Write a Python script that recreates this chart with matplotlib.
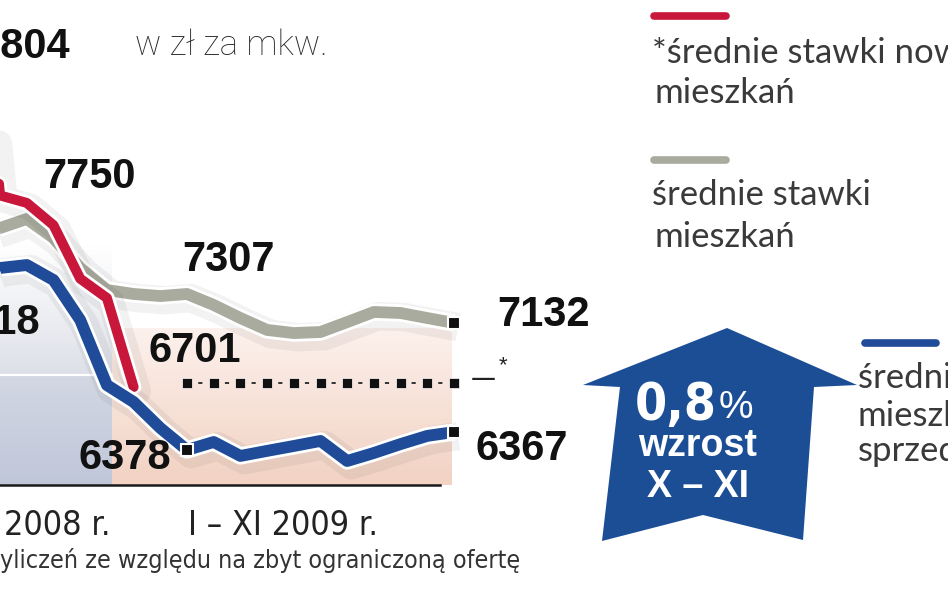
import matplotlib
matplotlib.use('Agg')
import matplotlib.pyplot as plt
import numpy as np
from matplotlib import patheffects as pe
from matplotlib import font_manager as fm
from matplotlib import colors as mcolors
from matplotlib.patches import Polygon

plt.rcParams['lines.scale_dashes'] = False

# ---------------- data (zł per m2) ----------------
# month index: 1 = I 2008 ... 12 = XII 2008, 13 = I 2009 ... 23 = XI 2009
red_months = [5, 6, 7, 8, 9, 10, 11]
red_values = [9900, 7990, 7940, 7790, 7430, 7300, 6701]

gb_months = list(range(5, 24))
gray_values = [7724, 7771, 7832, 7704, 7502, 7354, 7327, 7313,
               7327, 7253, 7165, 7085, 7064, 7071, 7138, 7206, 7199, 7165, 7132]
blue_values = [7421, 7502, 7522, 7421, 7152, 6714, 6600, 6425,
               6277, 6331, 6237, 6271, 6304, 6338, 6203, 6257, 6317, 6372, 6398]

nodata_months = list(range(13, 24))
nodata_level = 6730
floor_value = 6041

value_labels = ["7804", "7750", "7307", "7018", "6701", "7132", "6378", "6367"]
period_labels = ["2008 r.", "I – XI 2009 r."]

RED = '#c8173a'
GRAY = '#a9ab9f'
BLUE = '#1f4b98'
ARROW = '#1c4e96'
TXT = '#2b2b2b'


def has_font(name):
    try:
        fm.findfont(fm.FontProperties(family=name), fallback_to_default=False)
        return True
    except Exception:
        return False


NARROW = 'Liberation Sans Narrow' if has_font('Liberation Sans Narrow') else 'DejaVu Sans'
NSTRETCH = 'normal' if NARROW == 'Liberation Sans Narrow' else 'condensed'
BOLD = 'Liberation Sans' if has_font('Liberation Sans') else 'DejaVu Sans'
LEG = 'Lato' if has_font('Lato') else 'DejaVu Sans'
UNIT = 'Roboto' if has_font('Roboto') else 'DejaVu Sans'

W, H = 948, 593
fig = plt.figure(figsize=(W / 100, H / 100), dpi=100)
fig.patch.set_facecolor('white')

# background layer (pixel coordinates)
bg = fig.add_axes([0, 0, 1, 1], zorder=0)
bg.set_axis_off()


def vgrad(ax, x0, x1, y0, y1, c_top, c_bot, z=0):
    t = np.linspace(0, 1, 64)[:, None, None]
    a = np.array(mcolors.to_rgb(c_top))[None, None, :]
    b = np.array(mcolors.to_rgb(c_bot))[None, None, :]
    img = a * (1 - t) + b * t
    ax.imshow(img, extent=(x0, x1, y1, y0), aspect='auto',
              interpolation='bilinear', zorder=z)


vgrad(bg, 0, 112, 245, 375, '#ffffff', '#dde0e8', 1)
vgrad(bg, 0, 112, 375, 485, '#d2d7e3', '#c0c7d9', 1)
vgrad(bg, 112, 452, 328, 485, '#fcf1ec', '#f2d2c3', 1)
bg.plot([0, 112], [375, 375], color='white', lw=1.6, zorder=2)
bg.set_xlim(0, W)
bg.set_ylim(H, 0)

# data layer
ax = fig.add_axes([0, 0, 1, 1], zorder=1)
ax.patch.set_alpha(0)
ax.set_axis_off()
# month -> pixel: x = 187 + (m - 13) * 26.7 ; value -> pixel: y = 387 - (v - 6701) / 6.73
ax.set_xlim(13 - 187 / 26.7, 13 + (W - 187) / 26.7)
ax.set_ylim(6701 - (H - 387) * 6.73, 6701 + 387 * 6.73)


def line_fx(lw):
    return [pe.SimpleLineShadow(offset=(3, -3), shadow_color='#000000', alpha=0.05, linewidth=lw + 12),
            pe.Stroke(linewidth=lw + 4, foreground='white'),
            pe.Normal()]


ax.axhline(floor_value, xmin=0, xmax=440 / W, color='#1a1a1a', lw=1.8, zorder=2)

ax.plot(gb_months, gray_values, color=GRAY, lw=8.5, solid_joinstyle='round',
        solid_capstyle='butt', path_effects=line_fx(8.5), zorder=3)
ax.plot(red_months, red_values, color=RED, lw=7.2, solid_joinstyle='round',
        solid_capstyle='round', path_effects=line_fx(7.2), zorder=4)
ax.plot(gb_months, blue_values, color=BLUE, lw=8.5, solid_joinstyle='round',
        solid_capstyle='butt', path_effects=line_fx(8.5), zorder=5)

# no-data placeholder for new flats in 2009
ax.plot(nodata_months, [nodata_level] * len(nodata_months), color='#333333', lw=1.4,
        linestyle=(11.1, (3, 16.2)), zorder=6)
ax.plot(nodata_months, [nodata_level] * len(nodata_months), 's', color='#111111',
        ms=7.5, mec='white', mew=0.5, zorder=7)

# endpoint markers
ax.plot([gb_months[-1]], [gray_values[-1]], 's', color='#111111', ms=8.5, mec='white', mew=1.5, zorder=8)
ax.plot([gb_months[8]], [blue_values[8]], 's', color='#111111', ms=8.5, mec='white', mew=1.5, zorder=8)
ax.plot([gb_months[-1]], [blue_values[-1]], 's', color='#111111', ms=8.5, mec='white', mew=1.5, zorder=8)

# foreground layer (pixel coordinates)
fg = fig.add_axes([0, 0, 1, 1], zorder=2)
fg.patch.set_alpha(0)
fg.set_axis_off()
fg.set_xlim(0, W)
fg.set_ylim(H, 0)

num_kw = dict(family=BOLD, weight='bold', fontsize=30, color='#111111', va='center')
fg.text(70, 47, value_labels[0], ha='right', **num_kw)
fg.text(43, 177, value_labels[1], ha='left', **num_kw)
fg.text(182, 260, value_labels[2], ha='left', **num_kw)
fg.text(40, 323, value_labels[3], ha='right', **num_kw)
fg.text(149, 351, value_labels[4], ha='left', **num_kw)
fg.text(497, 315, value_labels[5], ha='left', **num_kw)
fg.text(79, 458, value_labels[6], ha='left', **num_kw)
fg.text(476, 449, value_labels[7], ha='left', **num_kw)

fg.text(471, 379, '—', family=NARROW, fontstretch=NSTRETCH, fontsize=20, color='#222222',
        ha='left', va='center')
fg.text(499, 366, '*', family=BOLD, fontsize=16, color='#222222', ha='left', va='center')

fg.text(135, 45, 'w zł za mkw.', family=UNIT, weight='light', fontsize=25, color=TXT,
        ha='left', va='center')

fg.text(4, 535, period_labels[0], family=NARROW, fontstretch=NSTRETCH, fontsize=24.5,
        color='#222222', ha='left', va='baseline')
fg.text(283, 535, period_labels[1], family=NARROW, fontstretch=NSTRETCH, fontsize=24.5,
        color='#222222', ha='center', va='baseline')
fg.text(0, 568, 'yliczeń ze względu na zbyt ograniczoną ofertę', family=NARROW,
        fontstretch=NSTRETCH, fontsize=18, color='#333333', ha='left', va='baseline')

# legend
leg_kw = dict(family=LEG, weight='normal', fontsize=25, color='#3a3a3a', ha='left', va='baseline')
fg.plot([654, 726], [16, 16], color=RED, lw=5.5, solid_capstyle='round')
fg.text(652, 63, '*średnie stawki nowych', **leg_kw)
fg.text(655, 103, 'mieszkań', **leg_kw)
fg.plot([654, 726], [160, 160], color=GRAY, lw=5.5, solid_capstyle='round')
fg.text(652, 205, 'średnie stawki', **leg_kw)
fg.text(655, 247, 'mieszkań', **leg_kw)
fg.plot([865, 936], [343, 343], color=BLUE, lw=5.5, solid_capstyle='round')
fg.text(858, 388, 'średnie stawki', **leg_kw)
fg.text(858, 426, 'mieszkań', **leg_kw)
fg.text(858, 461, 'sprzedanych', **leg_kw)

# arrow
arrow_pts = [(727, 328), (857, 385), (814, 387), (803, 540), (703, 515),
             (602, 541), (620, 387), (583, 385)]
fg.add_patch(Polygon(arrow_pts, closed=True, facecolor=ARROW, edgecolor='none', zorder=3))
fg.text(717, 420, '0,8', family=NARROW, fontstretch=NSTRETCH, weight='bold', fontsize=37,
        color='white', ha='right', va='baseline', zorder=4)
fg.text(719, 418, '%', family=BOLD, fontsize=28, color='white', ha='left', va='baseline', zorder=4)
fg.text(698, 456, 'wzrost', family=BOLD, weight='bold', fontsize=27, color='white',
        ha='center', va='baseline', zorder=4)
fg.text(698, 497, 'X – XI', family=BOLD, weight='bold', fontsize=27, color='white',
        ha='center', va='baseline', zorder=4)

fig.savefig('out.png', dpi=100, facecolor='white')
